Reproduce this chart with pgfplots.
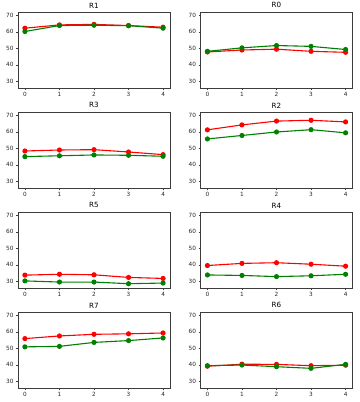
\documentclass[border=0pt]{standalone}
\usepackage{pgfplots}
\pgfplotsset{compat=1.18}
\usepackage{fontspec}
\setmainfont{DejaVu Sans}
\definecolor{mgreen}{RGB}{0,128,0}
\definecolor{spine}{RGB}{60,60,60}
\pgfplotsset{
  panel/.style={
    scale only axis, width=152bp, height=76bp,
    anchor=north west,
    xmin=-0.2, xmax=4.2, ymin=26, ymax=72,
    xtick={0,1,2,3,4}, ytick={30,40,50,60,70},
    tick align=outside, xtick pos=bottom, ytick pos=left,
    major tick length=2bp,
    axis line style={spine, line width=0.6bp},
    tick style={spine, line width=0.5bp},
    ticklabel style={font=\fontsize{5.8}{6}\selectfont, text=black!85},
    /pgf/number format/assume math mode=true,
    title style={font=\fontsize{7.2}{8}\selectfont, yshift=-5.5bp},
    xticklabel style={yshift=1bp},
    yticklabel style={xshift=1bp},
  },
  rline/.style={red, line width=1.1bp, mark=*, mark size=2bp, mark options={solid, fill=red, draw=red}},
  gline/.style={mgreen, line width=1.1bp, mark=*, mark size=2bp, mark options={solid, fill=mgreen, draw=mgreen}},
}
\begin{document}
\begin{tikzpicture}
\path[use as bounding box] (0bp,0bp) rectangle (360bp,-402bp);
% Row 1
\begin{axis}[panel, at={(18bp,-12bp)}, title={R1}]
\addplot[rline] coordinates {(0,62.2) (1,64.2) (2,64.5) (3,63.8) (4,62.8)};
\addplot[gline] coordinates {(0,60.2) (1,63.8) (2,64.0) (3,63.7) (4,62.2)};
\end{axis}
\begin{axis}[panel, at={(200.5bp,-12bp)}, title={R0}]
\addplot[rline] coordinates {(0,47.8) (1,49.0) (2,49.5) (3,48.2) (4,47.6)};
\addplot[gline] coordinates {(0,48.2) (1,50.3) (2,51.7) (3,51.2) (4,49.3)};
\end{axis}
% Row 2
\begin{axis}[panel, at={(18bp,-112bp)}, title={R3}]
\addplot[rline] coordinates {(0,48.4) (1,49.0) (2,49.2) (3,47.8) (4,46.2)};
\addplot[gline] coordinates {(0,45.0) (1,45.5) (2,46.0) (3,45.8) (4,45.2)};
\end{axis}
\begin{axis}[panel, at={(200.5bp,-112bp)}, title={R2}]
\addplot[rline] coordinates {(0,61.2) (1,64.2) (2,66.5) (3,67.0) (4,66.0)};
\addplot[gline] coordinates {(0,55.7) (1,57.8) (2,59.9) (3,61.3) (4,59.4)};
\end{axis}
% Row 3
\begin{axis}[panel, at={(18bp,-212bp)}, title={R5}]
\addplot[rline] coordinates {(0,33.8) (1,34.3) (2,34.0) (3,32.4) (4,31.8)};
\addplot[gline] coordinates {(0,30.3) (1,29.6) (2,29.6) (3,28.6) (4,29.0)};
\end{axis}
\begin{axis}[panel, at={(200.5bp,-212bp)}, title={R4}]
\addplot[rline] coordinates {(0,39.6) (1,40.9) (2,41.3) (3,40.4) (4,39.2)};
\addplot[gline] coordinates {(0,33.9) (1,33.6) (2,32.9) (3,33.4) (4,34.3)};
\end{axis}
% Row 4
\begin{axis}[panel, at={(18bp,-312bp)}, title={R7}]
\addplot[rline] coordinates {(0,55.9) (1,57.5) (2,58.5) (3,58.8) (4,59.3)};
\addplot[gline] coordinates {(0,50.9) (1,51.2) (2,53.6) (3,54.7) (4,56.3)};
\end{axis}
\begin{axis}[panel, at={(200.5bp,-312bp)}, title={R6}]
\addplot[rline] coordinates {(0,39.2) (1,40.4) (2,40.3) (3,39.5) (4,39.8)};
\addplot[gline] coordinates {(0,39.5) (1,39.9) (2,38.9) (3,37.9) (4,40.3)};
\end{axis}
\end{tikzpicture}
\end{document}
